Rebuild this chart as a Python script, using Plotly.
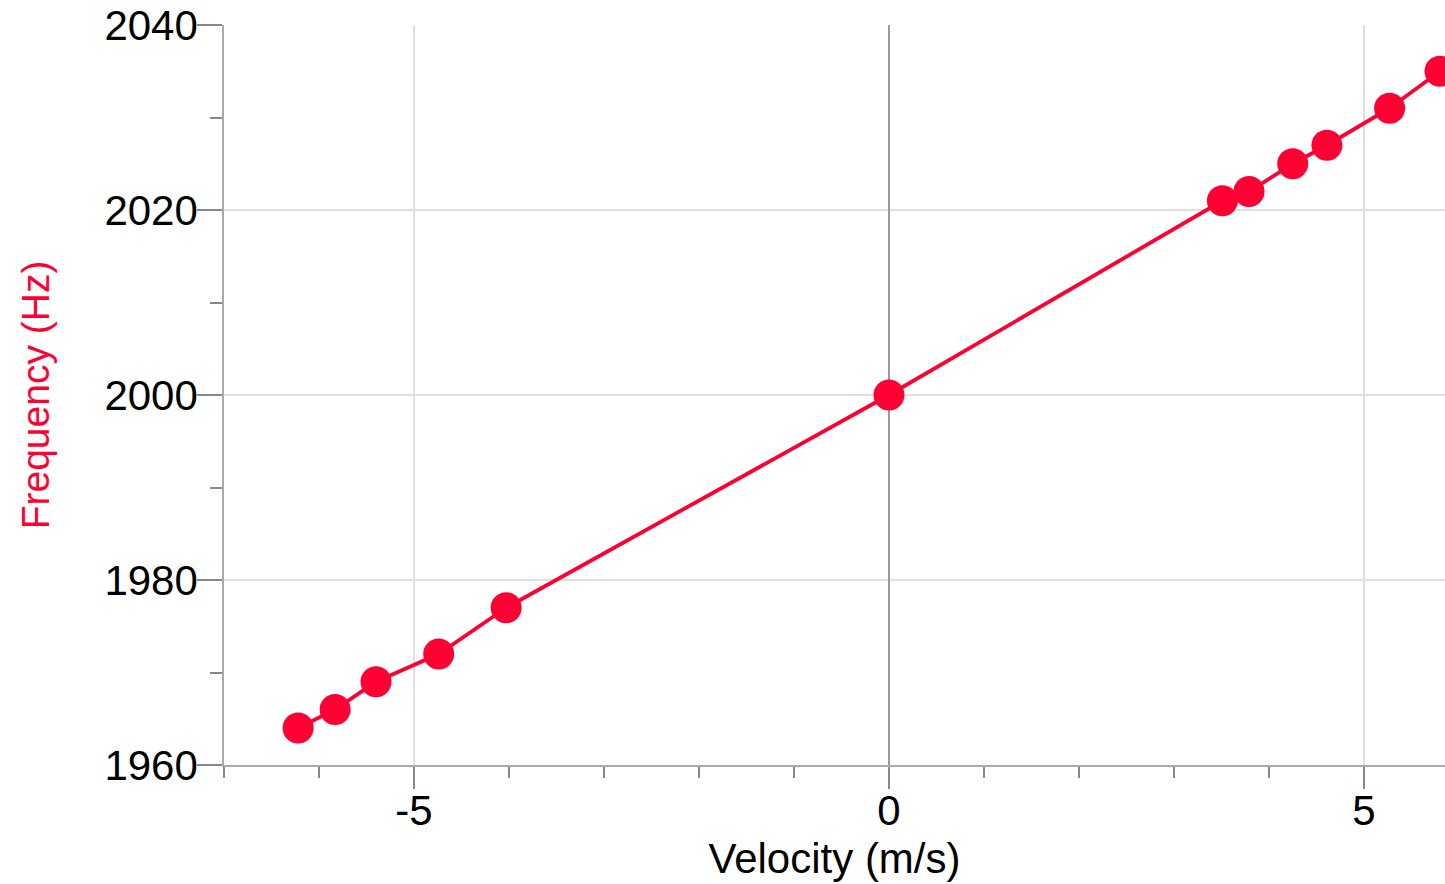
import plotly.graph_objects as go

velocity = [-6.22, -5.83, -5.40, -4.74, -4.03, 0.0, 3.51, 3.79, 4.25, 4.61, 5.27, 5.80]
frequency = [1964, 1966, 1969, 1972, 1977, 2000, 2021, 2022, 2025, 2027, 2031, 2035]

x_tickvals = [-5, 0, 5]
y_tickvals = [1960, 1980, 2000, 2020, 2040]

RED = "#FF0033"
FONT = "Liberation Sans, Arial, sans-serif"
FS = 42

fig = go.Figure()
fig.add_trace(go.Scatter(
    x=velocity, y=frequency, mode="lines+markers",
    line=dict(color=RED, width=3.8),
    marker=dict(color=RED, size=31),
    showlegend=False,
))

fig.update_layout(
    width=1445, height=884,
    margin=dict(l=224, r=0, t=25, b=119),
    paper_bgcolor="white", plot_bgcolor="white",
    font=dict(family=FONT, size=FS, color="black"),
)
fig.update_xaxes(
    range=[-7.0, 5.853],
    tickvals=x_tickvals, ticktext=[str(v) for v in x_tickvals],
    ticks="outside", ticklen=22, tickwidth=1.5, tickcolor="#888",
    ticklabelstandoff=-14,
    showgrid=True, gridcolor="#e0e0e0", gridwidth=1.5,
    zeroline=True, zerolinecolor="#999", zerolinewidth=1.5,
    showline=True, linecolor="#aaa", linewidth=1.5,
    minor=dict(dtick=1, tick0=0, ticks="outside", ticklen=11, tickcolor="#888", tickwidth=1.5, showgrid=False),
    tickfont=dict(size=FS, color="black"),
    title=dict(text="Velocity (m/s)", font=dict(size=FS, color="black"), standoff=10),
)
fig.update_yaxes(
    range=[1960, 2040],
    tickvals=y_tickvals, ticktext=[str(v) for v in y_tickvals],
    ticks="outside", ticklen=25, tickwidth=1.5, tickcolor="#888",
    ticklabelstandoff=-9,
    showgrid=True, gridcolor="#e0e0e0", gridwidth=1.5,
    zeroline=False,
    showline=True, linecolor="#aaa", linewidth=1.5,
    minor=dict(dtick=10, tick0=1960, ticks="outside", ticklen=12, tickcolor="#888", tickwidth=1.5, showgrid=False),
    tickfont=dict(size=FS, color="black"),
    title=dict(text="Frequency (Hz)", font=dict(size=39, color=RED), standoff=43),
)

fig.write_html("out.html")
